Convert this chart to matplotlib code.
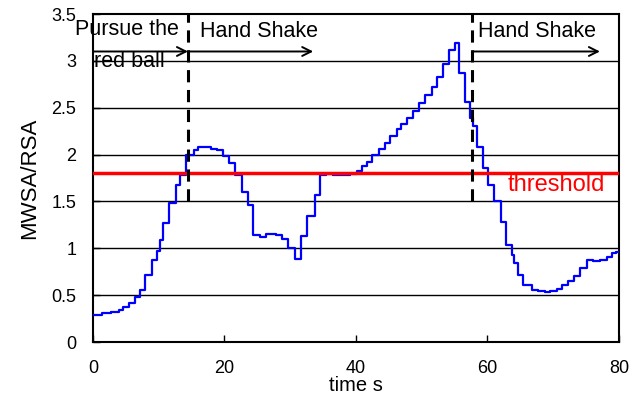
import numpy as np
import matplotlib
matplotlib.use("Agg")
import matplotlib.pyplot as plt

plt.rcParams['font.family'] = ['Liberation Sans', 'DejaVu Sans']

# step breakpoints (time s, MWSA/RSA)
t = [0, 1.3, 2.8, 3.9, 4.6, 5.5, 6.4, 7.1, 7.9, 9.0, 9.8, 10.2, 10.7, 11.6, 12.6,
     13.3, 14.2, 15.3, 16.0, 17.9, 18.8, 19.8, 20.7, 21.6, 22.6, 23.6, 24.4, 25.4,
     26.3, 27.9, 28.8, 29.7, 30.7, 31.6, 32.6, 33.8, 34.5, 35.5, 36.5, 39.1, 40.1,
     40.9, 41.6, 42.5, 43.5, 44.4, 45.2, 46.2, 46.9, 47.8, 48.7, 49.6, 50.5, 51.5,
     52.3, 53.2, 54.2, 55.0, 55.7, 56.6, 57.4, 57.8, 58.4, 59.3, 60.1, 61.0, 62.0,
     62.8, 63.7, 64.0, 64.7, 65.4, 66.7, 67.7, 68.7, 69.5, 70.5, 71.4, 72.3, 73.2,
     74.1, 75.1, 76.1, 77.1, 78.1, 78.9, 79.6, 80]
ratio = [0.29, 0.31, 0.32, 0.34, 0.37, 0.42, 0.48, 0.55, 0.71, 0.88, 0.97, 1.09, 1.27,
         1.48, 1.68, 1.78, 2.00, 2.05, 2.08, 2.06, 2.05, 1.98, 1.91, 1.78, 1.60, 1.46,
         1.14, 1.12, 1.15, 1.14, 1.10, 1.00, 0.89, 1.13, 1.34, 1.57, 1.78, 1.79, 1.78,
         1.79, 1.82, 1.88, 1.92, 2.00, 2.06, 2.12, 2.20, 2.27, 2.33, 2.39, 2.47, 2.55,
         2.64, 2.72, 2.83, 2.97, 3.12, 3.19, 2.87, 2.56, 2.39, 2.30, 2.08, 1.86, 1.68,
         1.50, 1.28, 1.04, 0.93, 0.84, 0.72, 0.61, 0.56, 0.54, 0.53, 0.54, 0.57, 0.61,
         0.65, 0.70, 0.79, 0.88, 0.86, 0.88, 0.91, 0.95, 0.96, 0.96]

threshold = 1.8
phase_bounds = [14.45, 57.7]

fig = plt.figure(figsize=(6.39, 4.07), dpi=100)
ax = fig.add_axes([0.1455, 0.1597, 0.8232, 0.8059])

for y in np.arange(0.5, 3.5, 0.5):
    ax.axhline(y, color='black', lw=1.0, zorder=1)

ax.plot(t, ratio, drawstyle='steps-post', color='#0000ff', lw=1.6, zorder=3)
ax.axhline(threshold, color='#ff0000', lw=2.5, zorder=4)

for xb in phase_bounds:
    ax.plot([xb, xb], [1.5, 3.5], color='black', lw=2.2, ls=(0, (4, 2.5)), zorder=5)

arrow = dict(arrowstyle='->', lw=1.4, color='black', mutation_scale=16, shrinkA=0, shrinkB=0)
ax.annotate('', xy=(14.45, 3.1), xytext=(0, 3.1), arrowprops=arrow, zorder=6)
ax.annotate('', xy=(33.5, 3.1), xytext=(14.45, 3.1), arrowprops=arrow, zorder=6)
ax.annotate('', xy=(77.1, 3.1), xytext=(57.7, 3.1), arrowprops=arrow, zorder=6)

ax.text(-2.8, 3.33, 'Pursue the', fontsize=15.5, va='center', ha='left', clip_on=False)
ax.text(0.1, 2.99, 'red ball', fontsize=15.5, va='center', ha='left')
ax.text(16.3, 3.31, 'Hand Shake', fontsize=15.5, va='center', ha='left')
ax.text(58.6, 3.31, 'Hand Shake', fontsize=15.5, va='center', ha='left')
ax.text(63.1, 1.67, 'threshold', fontsize=17, va='center', ha='left', color='#ff0000')

ax.set_xlim(0, 80)
ax.set_ylim(0, 3.5)
ax.set_xticks([0, 20, 40, 60, 80])
ax.set_yticks(np.arange(0, 3.51, 0.5))
ax.set_yticklabels(['0', '0.5', '1', '1.5', '2', '2.5', '3', '3.5'])
ax.tick_params(direction='in', length=5, width=1, labelsize=13)
ax.tick_params(axis='x', pad=13)
ax.tick_params(axis='y', pad=12)
for s in ax.spines.values():
    s.set_linewidth(1.5)

ax.set_xlabel('time s', fontsize=14.5, labelpad=-1)
ax.set_ylabel('MWSA/RSA', fontsize=16, labelpad=8)

fig.savefig('out.png', dpi=100)
